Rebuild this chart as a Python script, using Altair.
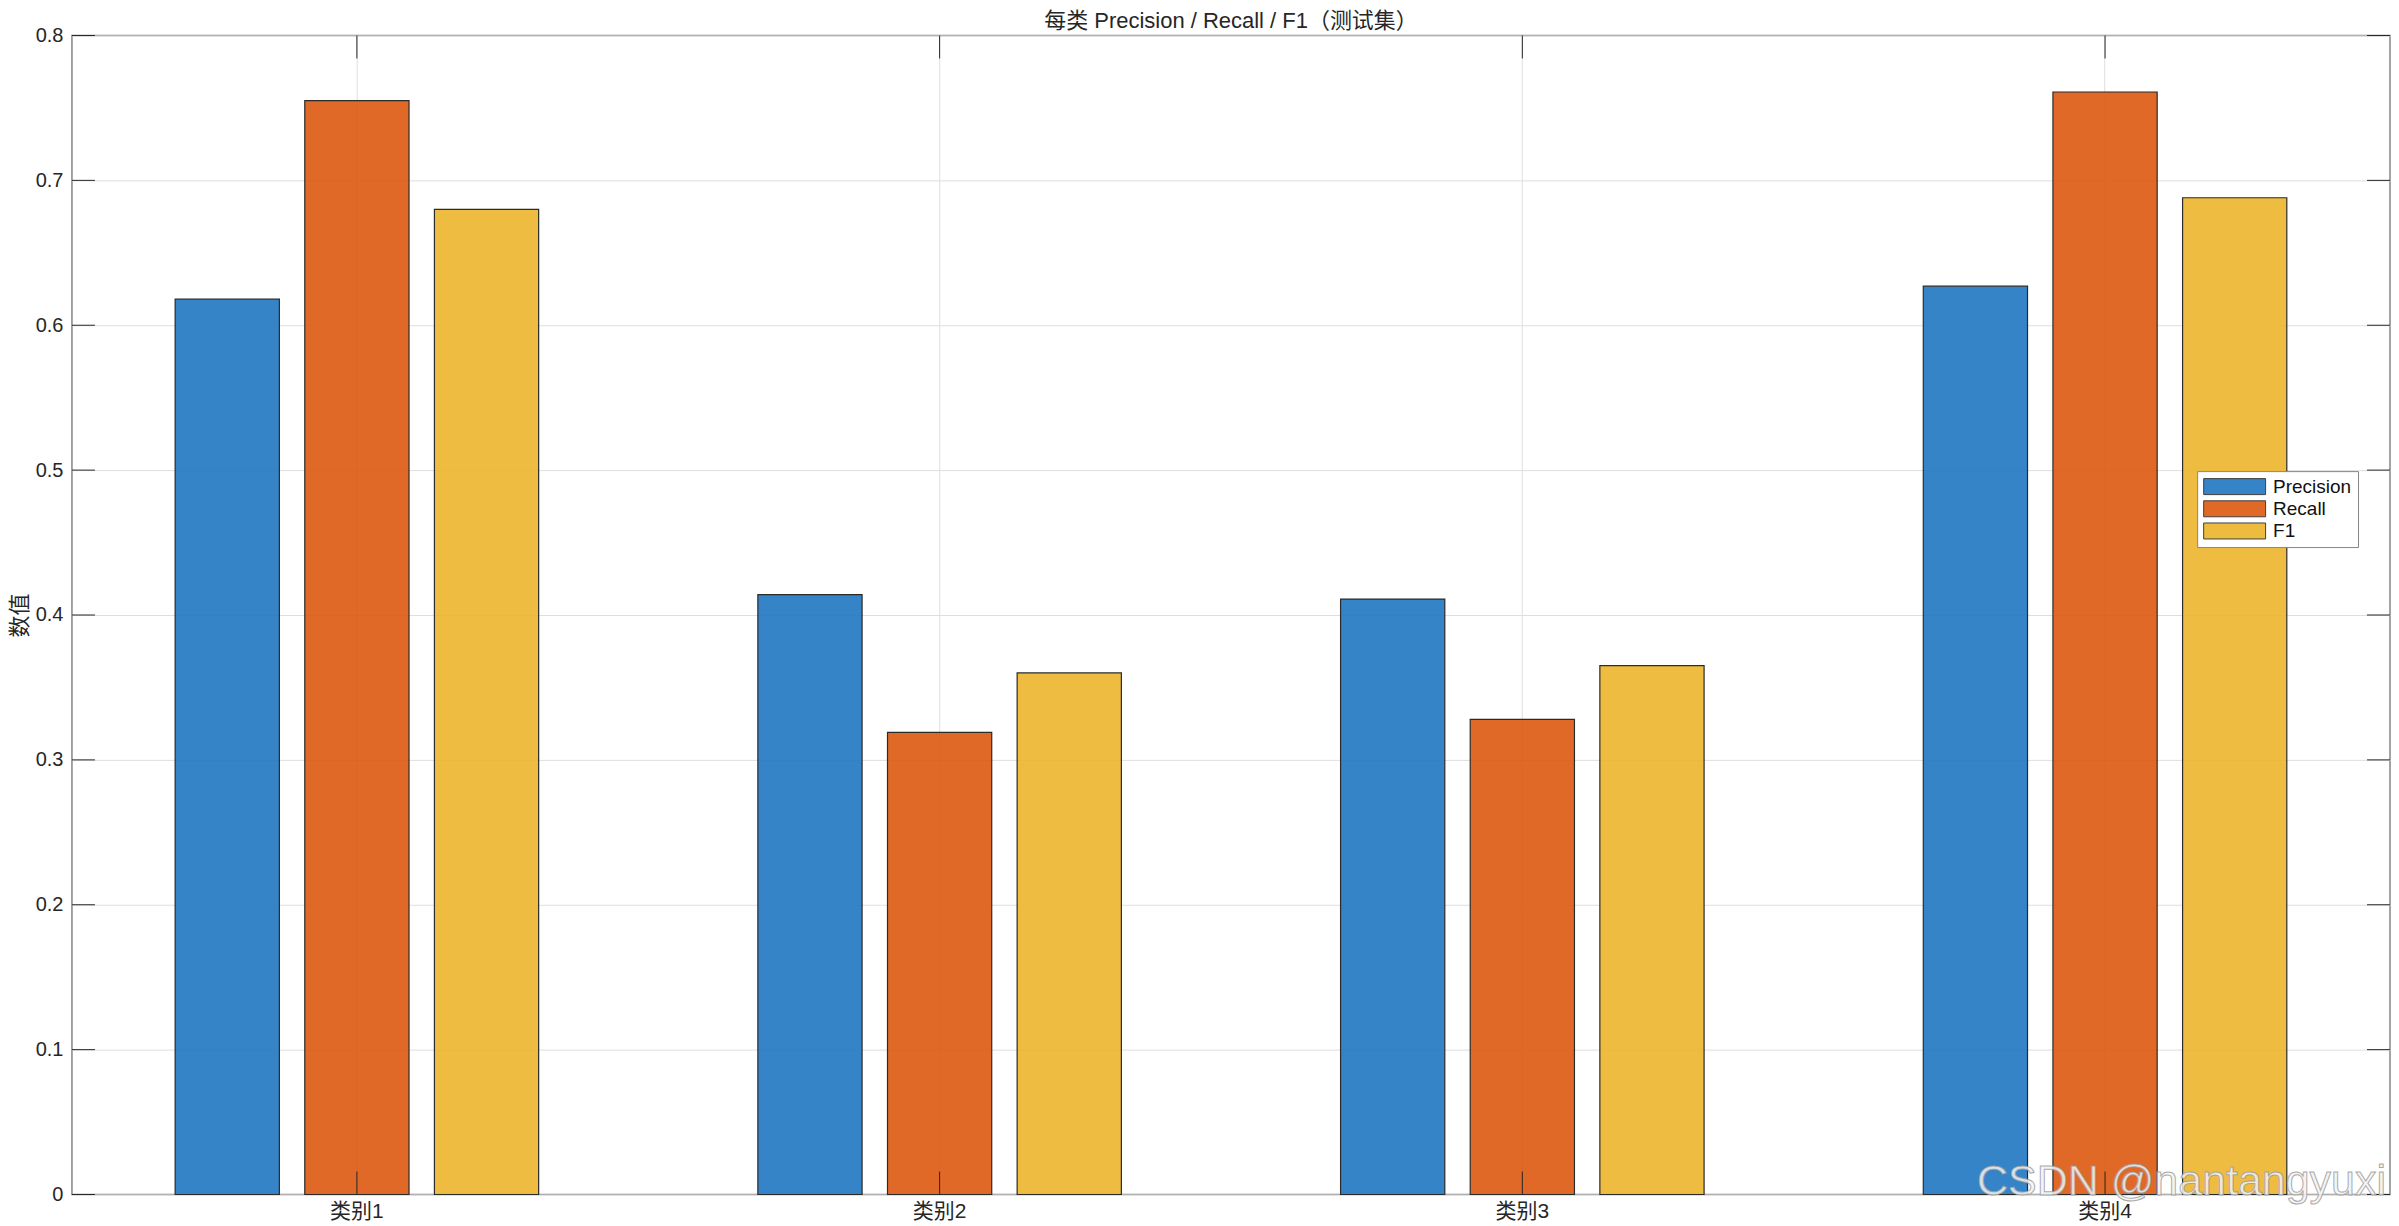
import altair as alt
import pandas as pd

# ---- data ----
categories = ["类别1", "类别2", "类别3", "类别4"]
metrics = ["Precision", "Recall", "F1"]
precision = [0.618, 0.414, 0.411, 0.627]
recall = [0.755, 0.319, 0.328, 0.761]
f1 = [0.680, 0.360, 0.365, 0.688]
y_ticks = [0, 0.1, 0.2, 0.3, 0.4, 0.5, 0.6, 0.7, 0.8]
colors = ["#1F77C2", "#DD590F", "#ECB52B"]
title_text = "每类 Precision / Recall / F1（测试集）"
y_title = "数值"
watermark = "CSDN @nantangyuxi"

# ---- layout ----
W, H = 2320, 1160
TICK = 23
FONT = "Liberation Sans, Noto Sans CJK SC"
TXT = "#262626"
BOX = "#868686"
GRID = "#dedede"

rows = []
for i, c in enumerate(categories):
    for m, vals in zip(metrics, [precision, recall, f1]):
        rows.append({"cat": c, "metric": m, "value": vals[i]})
df = pd.DataFrame(rows)
yt = pd.DataFrame({"value": y_ticks})
xt = pd.DataFrame({"cat": categories})

xscale = alt.Scale(domain=categories, paddingInner=0.03, paddingOuter=0.004)
yscale = alt.Scale(domain=[0, 0.8], nice=False, zero=True)

X = alt.X("cat:N", scale=xscale, sort=categories,
          axis=alt.Axis(title=None, labelAngle=0, grid=True, gridColor=GRID,
                        gridWidth=1, ticks=False, domain=False, bandPosition=0.5,
                        labelPadding=6, labelFontSize=21, labelFont=FONT,
                        labelColor=TXT))
Y = alt.Y("value:Q", scale=yscale,
          axis=alt.Axis(title=y_title, values=y_ticks, format="~g", grid=True,
                        gridColor=GRID, gridWidth=1, ticks=False, domain=False,
                        labelPadding=9, labelFontSize=20, labelFont=FONT,
                        labelColor=TXT, titlePadding=4, titleFontSize=22,
                        titleFont=FONT, titleFontWeight="normal",
                        titleColor=TXT))

bars = alt.Chart(df).mark_bar(
    stroke="#2b2b2b", strokeWidth=1.2, fillOpacity=0.9
).encode(
    x=X,
    xOffset=alt.XOffset("metric:N", sort=metrics,
                        scale=alt.Scale(domain=metrics, paddingInner=0.196,
                                        paddingOuter=0.778)),
    y=Y,
    color=alt.Color("metric:N", scale=alt.Scale(domain=metrics, range=colors),
                    legend=alt.Legend(title=None, orient="none", legendX=W - 193,
                                      legendY=436, direction="vertical",
                                      symbolType="M-6.2,-1.6H6.2V1.6H-6.2Z",
                                      symbolSize=100, symbolOffset=22,
                                      symbolStrokeColor="#2b2b2b",
                                      symbolStrokeWidth=1, symbolOpacity=0.9,
                                      labelFontSize=19, labelFont=FONT,
                                      labelColor="#111111", labelOffset=29,
                                      padding=6, rowPadding=1.2,
                                      strokeColor=BOX, fillColor="white",
                                      cornerRadius=0)),
)

ytick_l = alt.Chart(yt).mark_rule(color=TXT, strokeWidth=1).encode(
    y=Y, x=alt.value(0), x2=alt.value(TICK))
ytick_r = alt.Chart(yt).mark_rule(color=TXT, strokeWidth=1).encode(
    y=Y, x=alt.value(W - TICK), x2=alt.value(W))
xtick_t = alt.Chart(xt).mark_rule(color=TXT, strokeWidth=1).encode(
    x=X, y=alt.value(0), y2=alt.value(TICK))
xtick_b = alt.Chart(xt).mark_rule(color=TXT, strokeWidth=1).encode(
    x=X, y=alt.value(H - TICK), y2=alt.value(H))

wm = alt.Chart(pd.DataFrame({"t": [watermark]})).mark_text(
    align="right", baseline="alphabetic", fontSize=43, font="Liberation Sans",
    fill="#f2f2f2", fillOpacity=0.85, stroke="#9a9a9a", strokeWidth=1,
    strokeOpacity=0.85
).encode(text="t:N", x=alt.value(W - 4), y=alt.value(H))

chart = alt.layer(bars, ytick_l, ytick_r, xtick_t, xtick_b, wm).properties(
    width=W, height=H,
    title=alt.TitleParams(title_text, fontSize=22, fontWeight="normal", font=FONT,
                          color=TXT, offset=-8, anchor="middle", frame="group"),
    padding={"left": 0, "top": 2, "right": 0, "bottom": 0},
    background="white",
).configure_view(stroke=BOX, strokeWidth=1.5)

chart.save("out.html", embed_options={"renderer": "svg", "actions": False})
